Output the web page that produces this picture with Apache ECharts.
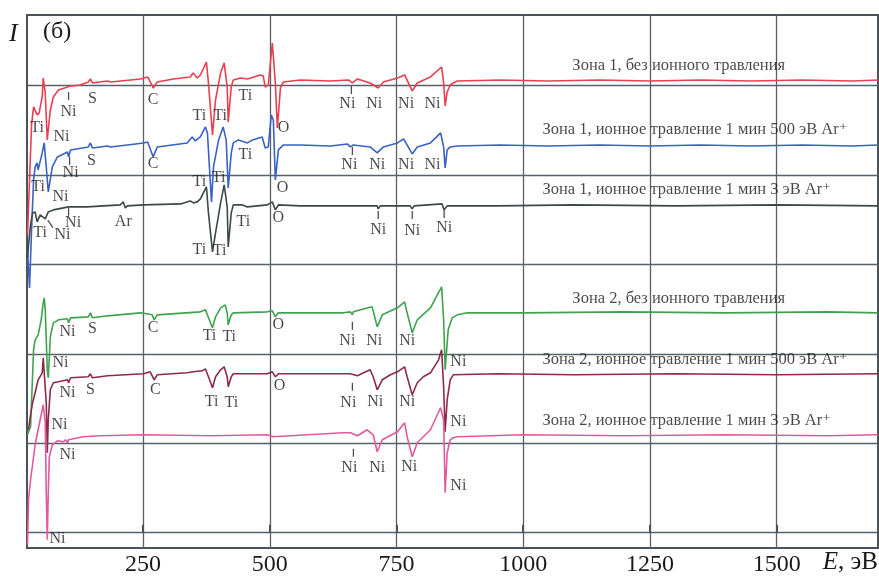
<!DOCTYPE html>
<html><head><meta charset="utf-8">
<script src="https://cdn.jsdelivr.net/npm/echarts@6/dist/echarts.min.js"></script>
<style>html,body{margin:0;padding:0;background:#fff}#c{width:879px;height:577px}</style>
</head><body><div id="c"></div>
<script>
// Energy axis (eV)
const xTicks = [250, 500, 750, 1000, 1250, 1500];
// horizontal reference lines (arbitrary intensity units)
const gridLevels = [0, 89.5, 179, 268.5, 358, 447.5];

const seriesNames = [
  'Зона 1, без ионного травления',
  'Зона 1, ионное травление 1 мин 500 эВ Ar⁺',
  'Зона 1, ионное травление 1 мин 3 эВ Ar⁺',
  'Зона 2, без ионного травления',
  'Зона 2, ионное травление 1 мин 500 эВ Ar⁺',
  'Зона 2, ионное травление 1 мин 3 эВ Ar⁺'
];

// [E (eV), I (arb. units incl. offset)]
const zone1NoEtch = [[22,298],[26,353],[30,408],[34,426],[41,418],[45,420],[51,436],[53,455],[57,440],[61,393],[67,423],[73,436],[83,443],[101,446],[103,444],[107,447],[126,448],[142,451],[146,454],[150,450],[180,452],[182,454],[186,451],[245,454],[259,456],[270,445],[278,451],[310,454],[343,456],[349,460],[357,455],[363,458],[375,471],[379,450],[387,398],[393,433],[403,460],[410,470],[416,446],[418,411],[424,446],[428,453],[442,455],[456,454],[481,458],[487,457],[491,446],[497,448],[505,490],[511,450],[515,405],[521,445],[527,451],[560,453],[620,452],[655,453],[663,450],[673,454],[698,450],[714,445],[724,451],[752,455],[766,458],[781,442],[791,450],[817,456],[839,466],[843,450],[846,427],[850,441],[856,448],[862,450],[870,452],[955,453],[1050,452],[1150,453],[1250,452],[1350,453],[1450,452],[1550,453],[1650,452],[1700,453]];
const zone1Ar500 = [[22,283],[26,245],[30,303],[34,353],[37,366],[41,370],[43,363],[51,380],[55,390],[59,366],[63,341],[71,366],[81,376],[101,381],[103,376],[107,383],[142,386],[146,390],[150,385],[180,387],[182,389],[186,386],[251,390],[259,391],[270,376],[278,386],[337,390],[347,396],[353,392],[363,396],[373,406],[377,400],[385,331],[389,366],[399,393],[408,406],[414,393],[418,345],[424,380],[428,390],[438,393],[456,390],[466,393],[485,396],[491,385],[497,386],[503,418],[507,413],[511,353],[517,383],[527,388],[560,388],[620,387],[653,389],[659,386],[665,388],[698,386],[712,380],[724,386],[752,390],[764,394],[781,379],[791,386],[817,390],[837,400],[843,386],[846,365],[850,383],[856,386],[870,387],[955,388],[1050,387],[1150,388],[1250,387],[1350,388],[1450,387],[1550,388],[1650,387],[1700,388]];
const zone1Ar3 = [[22,275],[24,288],[28,308],[32,320],[37,321],[41,311],[47,318],[57,314],[63,321],[73,323],[93,325],[103,326],[140,326],[205,328],[211,331],[215,325],[219,327],[251,328],[324,329],[343,332],[349,330],[357,331],[363,334],[369,340],[375,346],[379,320],[387,281],[393,300],[403,330],[410,348],[416,326],[418,286],[424,320],[428,328],[446,328],[448,330],[456,326],[495,328],[505,331],[511,323],[517,328],[560,327],[712,327],[714,324],[718,327],[777,327],[781,324],[785,327],[840,329],[844,323],[850,327],[950,327],[1100,328],[1300,327],[1500,328],[1700,327]];
const zone2NoEtch = [[22,98],[24,100],[28,106],[34,183],[37,193],[43,198],[49,213],[53,230],[55,235],[57,223],[61,163],[63,155],[67,196],[73,210],[83,213],[101,214],[103,210],[107,215],[142,216],[146,220],[150,215],[180,217],[245,220],[268,218],[272,213],[278,218],[363,221],[373,223],[383,210],[387,205],[393,216],[403,225],[412,228],[416,220],[418,208],[424,218],[428,220],[495,221],[505,222],[511,216],[517,220],[645,220],[659,221],[663,218],[665,221],[694,225],[702,226],[712,206],[722,218],[752,225],[766,231],[771,220],[781,200],[791,213],[817,225],[839,246],[843,213],[846,163],[852,203],[860,215],[870,218],[890,220],[1000,220],[1200,221],[1400,220],[1600,221],[1700,220]];
const zone2Ar500 = [[24,103],[28,118],[32,130],[37,140],[43,153],[51,160],[53,175],[55,173],[59,130],[61,80],[63,113],[67,143],[73,150],[83,151],[101,153],[103,150],[107,155],[142,156],[146,159],[150,155],[180,157],[251,159],[264,161],[272,153],[278,158],[337,160],[349,161],[367,162],[373,164],[379,156],[387,145],[393,156],[403,163],[410,166],[416,156],[418,146],[424,156],[428,159],[495,159],[505,161],[511,156],[517,159],[659,159],[673,157],[685,160],[698,163],[704,156],[712,143],[722,153],[738,158],[752,161],[766,166],[771,156],[781,138],[791,150],[803,156],[817,160],[833,173],[839,183],[843,146],[846,101],[850,133],[856,153],[862,158],[950,159],[1100,158],[1300,159],[1500,158],[1700,159]];
const zone2Ar3 = [[22,-12],[24,33],[28,53],[32,68],[37,88],[47,113],[53,128],[55,130],[57,110],[59,40],[61,-7],[63,40],[65,76],[71,88],[81,92],[93,91],[97,93],[101,90],[103,93],[132,96],[166,97],[251,98],[383,97],[495,98],[507,96],[645,100],[659,100],[673,97],[692,103],[704,98],[712,81],[722,93],[752,101],[766,110],[771,96],[781,76],[791,90],[817,103],[837,125],[843,113],[846,40],[850,80],[856,93],[862,95],[870,96],[1000,98],[1200,97],[1400,98],[1600,97],[1700,98]];

// peak annotations [E, I, text]
const peakLabels = [
 [41,405,'Ti'],[89,396,'Ni'],[103,421,'Ni'],[150,434,'S'],[270,433,'C'],[361,417,'Ti'],[402,417,'Ti'],[452,437,'Ti'],[527,405,'O'],[653,429,'Ni'],[706,429,'Ni'],[769,429,'Ni'],[821,429,'Ni'],
 [43,346,'Ti'],[87,336,'Ni'],[107,360,'Ni'],[148,372,'S'],[270,369,'C'],[361,351,'Ti'],[399,355,'Ti'],[452,378,'Ti'],[525,345,'O'],[657,368,'Ni'],[712,368,'Ni'],[769,368,'Ni'],[821,368,'Ni'],
 [47,300,'Ti'],[91,298,'Ni'],[112,310,'Ni'],[211,311,'Ar'],[361,283,'Ti'],[401,282,'Ti'],[448,311,'Ti'],[517,315,'O'],[714,303,'Ni'],[781,302,'Ni'],[844,305,'Ni'],
 [87,170,'Ni'],[101,201,'Ni'],[150,204,'S'],[270,205,'C'],[381,197,'Ti'],[420,196,'Ti'],[517,208,'O'],[653,192,'Ni'],[706,192,'Ni'],[771,192,'Ni'],[872,171,'Ni'],
 [85,108,'Ni'],[101,140,'Ni'],[146,143,'S'],[274,143,'C'],[385,131,'Ti'],[424,130,'Ti'],[519,147,'O'],[655,130,'Ni'],[708,131,'Ni'],[771,131,'Ni'],[872,111,'Ni'],
 [81,-6,'Ni'],[101,78,'Ni'],[657,65,'Ni'],[712,65,'Ni'],[775,66,'Ni'],[872,47,'Ni']
];
const tickMarks = [[103,437],[661,443],[105,372],[663,382],[103,321],[714,318],[781,318],[844,319],[663,207],[663,146],[665,80]];
const slantMarks = [[67,309]];
// anchors (left edge) of the curve captions
const nameAnchors = [[1096,467],[1037,403],[1037,343],[1096,234],[1037,173],[1037,112]];

const curves = [zone1NoEtch, zone1Ar500, zone1Ar3, zone2NoEtch, zone2Ar500, zone2Ar3];
const colors = ['#e8404f', '#3a62c2', '#3d4848', '#3ea24e', '#8e2a48', '#e25a9e'];
const serif = '"Liberation Serif", "DejaVu Serif", serif';
const gridColor = '#55626a';

const chart = echarts.init(document.getElementById('c'), null, {renderer: 'canvas'});

const series = curves.map((d, i) => ({
  type: 'line', name: seriesNames[i], data: d, showSymbol: false, symbol: 'none',
  lineStyle: {color: colors[i], width: 1.6}, itemStyle: {color: colors[i]},
  z: 3, silent: true
}));

series.push({
  type: 'scatter', data: peakLabels.map(p => ({value: [p[0], p[1]], name: p[2]})),
  symbolSize: 1, itemStyle: {color: 'rgba(0,0,0,0)'}, z: 5, silent: true,
  label: {show: true, position: 'inside', formatter: p => p.name, fontFamily: serif, fontSize: 16, color: '#1a1a1a'}
});
series.push({
  type: 'scatter', data: tickMarks, symbol: 'rect', symbolSize: [1.3, 8],
  itemStyle: {color: '#222'}, z: 5, silent: true
});
series.push({
  type: 'scatter', data: slantMarks, symbol: 'rect', symbolSize: [1.3, 9], symbolRotate: 35,
  itemStyle: {color: '#222'}, z: 5, silent: true
});
series.push({
  type: 'scatter', data: nameAnchors.map((p, i) => ({value: p, name: seriesNames[i]})),
  symbolSize: 1, itemStyle: {color: 'rgba(0,0,0,0)'}, z: 5, silent: true,
  label: {show: true, position: 'right', distance: 0, formatter: p => p.name, fontFamily: serif, fontSize: 16.5, color: '#1a1a1a'}
});

chart.setOption({
  animation: false,
  backgroundColor: '#fff',
  grid: {left: 27, right: 1, top: 15, bottom: 28.7, show: true, borderColor: '#4b5258', borderWidth: 2, backgroundColor: 'transparent'},
  xAxis: {
    type: 'value', min: 21, max: 1700,
    axisLine: {show: false},
    axisTick: {show: true, inside: true, length: 8, customValues: xTicks, lineStyle: {color: '#4b5258', width: 2}},
    axisLabel: {show: true, customValues: xTicks, formatter: v => String(v), margin: 5, fontFamily: serif, fontSize: 24, color: '#1a1a1a'},
    splitLine: {show: true, lineStyle: {color: gridColor, width: 1.3}}
  },
  yAxis: {
    type: 'value', min: -15.3, max: 518,
    axisLine: {show: false},
    axisTick: {show: false, customValues: gridLevels},
    axisLabel: {show: false, customValues: gridLevels},
    splitLine: {show: true, lineStyle: {color: gridColor, width: 1.3}}
  },
  graphic: [
    {type: 'text', left: 9, top: 21, style: {text: 'I', font: 'italic 26px ' + serif, fill: '#1a1a1a'}},
    {type: 'text', left: 43, top: 20, style: {text: '(б)', font: '24px ' + serif, fill: '#1a1a1a'}},
    {type: 'text', right: 1, top: 550, style: {text: '{i|E}, эВ', font: '25px ' + serif, fill: '#1a1a1a',
      rich: {i: {fontStyle: 'italic', fontFamily: serif, fontSize: 25, fill: '#1a1a1a'}}}}
  ],
  series: series
});
</script></body></html>
